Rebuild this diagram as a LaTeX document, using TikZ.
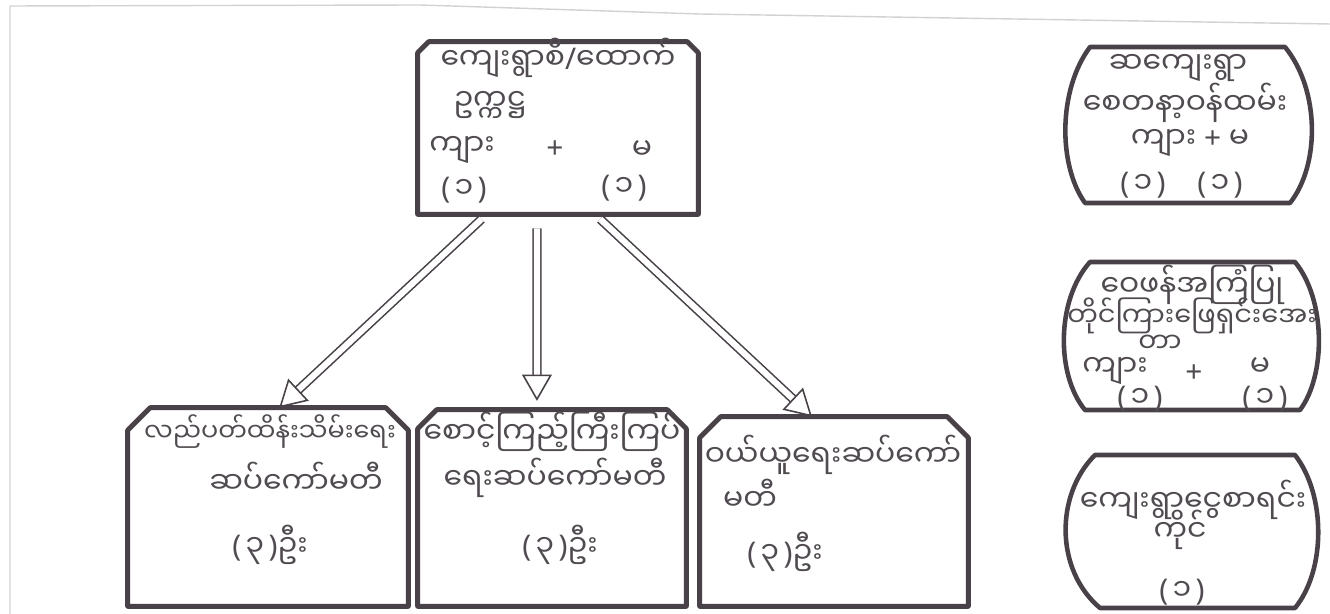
\documentclass[tikz,border=0pt]{standalone}
\usepackage{fontspec}
\newfontfamily\my[Script=Myanmar]{Noto Sans Myanmar UI}
\newfontfamily\lat{Noto Sans}
\newcommand\myLP{{\lat(}\hspace{2.5pt}}
\newcommand\myRP{\hspace{2.5pt}{\lat)}}
\newcommand\myPl{{\lat+}}
\newcommand\mySl{{\lat/}}
\usetikzlibrary{arrows.meta,calc}
\definecolor{ink}{RGB}{72,66,72}
\definecolor{txt}{RGB}{80,75,80}
\newcommand\chambox[2]{\draw[boxline] (#1.south west) -- ([yshift=-#2]#1.north west) -- ([xshift=#2]#1.north west) -- ([xshift=-#2]#1.north east) -- ([yshift=-#2]#1.north east) -- (#1.south east) -- cycle;}
\begin{document}
\begin{tikzpicture}[x=0.02cm,y=-0.02cm,
  box/.style={draw=none, rectangle, inner sep=0pt},
  boxline/.style={draw=ink, line width=2.8pt, line join=round},
  barrel/.style={draw=ink, line width=2.6pt, line join=round},
  mm/.style={text=txt, font=\my\fontsize{17}{20}\selectfont, inner sep=0pt, anchor=center},
  dbl/.style={draw=ink, line width=0.9pt, double=white, double distance=3.5pt,
    -{Triangle[open,length=15pt,width=17pt,line width=0.9pt]}}]
\useasboundingbox (0,0) rectangle (1330,614);
% faint frame of the sheet
\draw[gray!35, line width=0.8pt] (10,614) -- (10,6) -- (420,5) -- (700,14) -- (1330,24);

% boxes
\node[box, minimum width=5.6cm, minimum height=3.44cm] (top) at (558,128) {};
\node[box, minimum width=5.6cm, minimum height=3.96cm] (bl) at (268,507) {};
\node[box, minimum width=5.36cm, minimum height=3.92cm] (bm) at (552,508) {};
\node[box, minimum width=5.36cm, minimum height=3.78cm] (br) at (834,511.5) {};
\chambox{top}{0.22cm}
\chambox{bl}{0.45cm}
\chambox{bm}{0.38cm}
\chambox{br}{0.42cm}

% barrels
\draw[barrel] (1090,47) -- (1285,47) .. controls (1320,90) and (1320,165) .. (1290,203) -- (1085,203) .. controls (1058,165) and (1058,90) .. cycle;
\draw[barrel] (1090,262) -- (1295,262) .. controls (1326,300) and (1326,375) .. (1300,410) -- (1085,410) .. controls (1056,375) and (1056,300) .. cycle;
\draw[barrel] (1095,455) -- (1295,455) .. controls (1326,495) and (1326,570) .. (1295,608) -- (1100,608) .. controls (1055,570) and (1055,495) .. cycle;

% arrows
\draw[dbl, shorten <=4pt] ($(top.south west)!0.246!(top.south east)$) -- ($(bl.north west)!0.54!(bl.north east)$);
\draw[dbl, shorten <=8pt, shorten >=5pt] ($(top.south west)!0.425!(top.south east)$) -- ($(bm.north west)!0.444!(bm.north east)$);
\draw[dbl, shorten <=4pt] ($(top.south west)!0.632!(top.south east)$) -- ($(br.north west)!0.418!(br.north east)$);

% top box text
\node[mm] (t1) at (558,58) {ကျေးရွာစီ\mySl ထောက်};
\node[mm] (t2) at (490,105) {ဥက္ကဋ္ဌ};
\node[mm] (t3a) at (462,150) {ကျား};
\node[mm] (t3b) at (555,150) {\myPl};
\node[mm] (t3c) at (642,150) {မ};
\node[mm] (t4a) at (464,190) {\myLP ၁\myRP};
\node[mm] (t4b) at (624,188) {\myLP ၁\myRP};

% bottom left
\node[mm, font=\my\fontsize{14.5}{18}\selectfont] (l1) at (270,432) {လည်ပတ်ထိန်းသိမ်းရေး};
\node[mm] (l2) at (296,478) {ဆပ်ကော်မတီ};
\node[mm] (l3) at (270,545) {\myLP ၃\myRP ဦး};
% bottom middle
\node[mm] (m1) at (552,432) {စောင့်ကြည့်ကြီးကြပ်};
\node[mm] (m2) at (555,478) {ရေးဆပ်ကော်မတီ};
\node[mm] (m3) at (560,545) {\myLP ၃\myRP ဦး};
% bottom right
\node[mm] (r1) at (833,455) {ဝယ်ယူရေးဆပ်ကော်};
\node[mm] (r2) at (750,495) {မတီ};
\node[mm] (r3) at (785,552) {\myLP ၃\myRP ဦး};

% right column
\node[mm] (a1) at (1178,68) {ဆကျေးရွာ};
\node[mm] (a2) at (1185,103) {စေတနာ့ဝန်ထမ်း};
\node[mm] (a3) at (1190,143) {ကျား \myPl{} မ};
\node[mm] (a4a) at (1143,185) {\myLP ၁\myRP};
\node[mm] (a4b) at (1220,185) {\myLP ၁\myRP};

\node[mm] (b1) at (1192,285) {ဝေဖန်အကြံပြု};
\node[mm, font=\my\fontsize{15.5}{18}\selectfont] (b2) at (1192,316) {တိုင်ကြားဖြေရှင်းအေး};
\node[mm, font=\my\fontsize{15.5}{18}\selectfont] (b3) at (1160,344) {တာ};
\node[mm] (b4a) at (1115,371) {ကျား};
\node[mm] (b4b) at (1194,374) {\myPl};
\node[mm] (b4c) at (1260,367) {မ};
\node[mm] (b5a) at (1140,399) {\myLP ၁\myRP};
\node[mm] (b5b) at (1265,399) {\myLP ၁\myRP};

\node[mm] (c1) at (1193,500) {ကျေးရွာငွေစာရင်း};
\node[mm] (c2) at (1180,530) {ကိုင်};
\node[mm] (c3) at (1182,592) {\myLP ၁\myRP};
\end{tikzpicture}
\end{document}
